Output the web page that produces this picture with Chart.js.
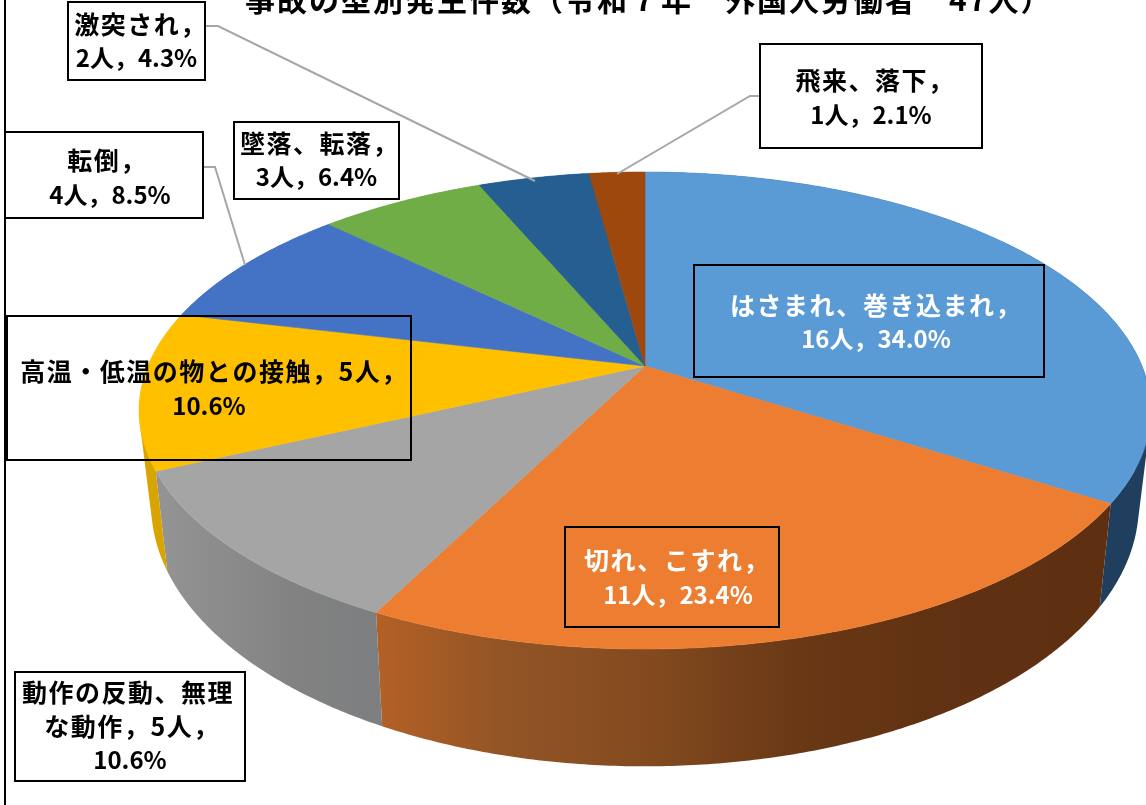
<!DOCTYPE html>
<html lang="ja"><head><meta charset="utf-8">
<style>html,body{margin:0;padding:0;background:#fff}canvas{display:block}</style>
<script src="https://cdn.jsdelivr.net/npm/chart.js@4"></script></head>
<body><canvas id="c" width="1146" height="805"></canvas>
<script>
const titleText = '事故の型別発生件数（令和７年　外国人労働者　47人）';
const categories = ['はさまれ、巻き込まれ','切れ、こすれ','動作の反動、無理な動作','高温・低温の物との接触','転倒','墜落、転落','激突され','飛来、落下'];
const counts = [16,11,5,5,4,3,2,1];
const percentLabels = ['34.0%','23.4%','10.6%','10.6%','8.5%','6.4%','4.3%','2.1%'];
const labelLines = [
  ['はさまれ、巻き込まれ，','16人，34.0%'],
  ['切れ、こすれ，','11人，23.4%'],
  ['動作の反動、無理','な動作，5人，','10.6%'],
  ['高温・低温の物との接触，5人，','10.6%'],
  ['転倒，','4人，8.5%'],
  ['墜落、転落，','3人，6.4%'],
  ['激突され，','2人，4.3%'],
  ['飛来、落下，','1人，2.1%']
];
const topColors = ['#5B9BD5','#ED7D31','#A5A5A5','#FFC000','#4472C4','#70AD47','#255E91','#9E480E'];

/* presentation */
const topFace = {cx:645, cy:366, a:497, b:230.2, k:-0.1866};
const botFace = {cx:645, cy:456, a:485, b:252, k:-0.188};
const boxes = [
  {x:694,y:265,w:350,h:112,color:'#fff',fill:null,cy:[305,339],dx:[7,7]},
  {x:565,y:527,w:214,h:100,color:'#fff',fill:null,cy:[560,595],dx:[5,6]},
  {x:15,y:672,w:230,h:109,color:'#000',fill:'#fff',cy:[692,726,760],dx:[-2,2,0]},
  {x:7,y:316,w:404,h:144,color:'#000',fill:null,cy:[371,406],dx:[5,0]},
  {x:5,y:132,w:198,h:86,color:'#000',fill:'#fff',cy:[160,195],dx:[3,6]},
  {x:234,y:122,w:165,h:77,color:'#000',fill:'#fff',cy:[143,177],dx:[3,0]},
  {x:68,y:2,w:137,h:78,color:'#000',fill:'#fff',cy:[24,58],dx:[4,0]},
  {x:760,y:44,w:222,h:104,color:'#000',fill:'#fff',cy:[80,115],dx:[4,0]}
];
const leaders = [
  [[205,26],[218,26],[535,181]],
  [[760,96],[750,96],[617,174]],
  [[203,167],[215,167],[245,265]]
];
const FONT = '"Noto Sans CJK JP","Noto Sans CJK SC",sans-serif';

function project(f, t){
  const X = Math.sin(t), Y = -Math.cos(t), d = 1 + f.k*Y;
  return [f.cx + f.a*X/d, f.cy + f.b*Y/d];
}
function sideFill(ctx, i){
  const grad = (x0,x1,stops)=>{const g=ctx.createLinearGradient(x0,0,x1,0);stops.forEach(s=>g.addColorStop(s[0],s[1]));return g;};
  if(i===0) return '#203f5e';
  if(i===1) return grad(380,1110,[[0,'#b36025'],[.165,'#935526'],[.37,'#834a1f'],[.575,'#693815'],[.78,'#603112'],[1,'#5e3011']]);
  if(i===2) return grad(165,384,[[0,'#939393'],[.6,'#828282'],[1,'#7c7e80']]);
  if(i===3) return '#d8a400';
  return topColors[i];
}
const pie3d = {
  id:'pie3d',
  beforeDatasetsDraw(chart){
    const ctx = chart.ctx, arcs = chart.getDatasetMeta(0).data;
    const ang = arcs.map(a=>[a.startAngle+Math.PI/2, a.endAngle+Math.PI/2]);
    const step = Math.PI/360;
    const samples = (s,e)=>{const r=[];const n=Math.max(1,Math.ceil((e-s)/step));for(let j=0;j<=n;j++)r.push(s+(e-s)*j/n);return r;};
    // side walls: quads share one orientation in one path, so the fold at the silhouette stays filled
    ang.forEach(([s,e],i)=>{
      const ts = samples(s,e);
      ctx.beginPath();
      for(let j=0;j<ts.length-1;j++){
        let q=[project(topFace,ts[j]),project(topFace,ts[j+1]),project(botFace,ts[j+1]),project(botFace,ts[j])];
        let area=0;
        q.forEach((p,m)=>{const n=q[(m+1)%4];area+=p[0]*n[1]-n[0]*p[1];});
        if(area<0) q=q.reverse();
        q.forEach((p,m)=>m?ctx.lineTo(p[0],p[1]):ctx.moveTo(p[0],p[1]));
        ctx.closePath();
      }
      ctx.fillStyle = sideFill(ctx,i);
      ctx.fill('nonzero');
    });
    // top face
    ang.forEach(([s,e],i)=>{
      ctx.beginPath();
      ctx.moveTo(topFace.cx,topFace.cy);
      samples(s,e).forEach(t=>{const p=project(topFace,t);ctx.lineTo(p[0],p[1]);});
      ctx.closePath();
      ctx.fillStyle = topColors[i];
      ctx.strokeStyle = topColors[i];
      ctx.lineWidth = 0.6;
      ctx.fill(); ctx.stroke();
    });
    return false;
  },
  afterDraw(chart){
    const ctx = chart.ctx;
    ctx.save();
    // chart frame line at left
    ctx.strokeStyle='#000'; ctx.lineWidth=2;
    ctx.beginPath(); ctx.moveTo(5,0); ctx.lineTo(5,805); ctx.stroke();
    // title
    ctx.fillStyle='#000'; ctx.textAlign='left'; ctx.textBaseline='alphabetic';
    ctx.font='bold 30px '+FONT;
    ctx.letterSpacing='2px';
    ctx.fillText(titleText,245,11);
    ctx.letterSpacing='0px';
    // leaders
    ctx.strokeStyle='#a6a6a6'; ctx.lineWidth=2;
    leaders.forEach(l=>{ctx.beginPath();l.forEach((p,j)=>j?ctx.lineTo(p[0],p[1]):ctx.moveTo(p[0],p[1]));ctx.stroke();});
    // labels
    boxes.forEach((b,i)=>{
      if(b.fill){ctx.fillStyle=b.fill;ctx.fillRect(b.x,b.y,b.w,b.h);}
      ctx.strokeStyle='#000'; ctx.lineWidth=2;
      ctx.strokeRect(b.x,b.y,b.w,b.h);
      ctx.fillStyle=b.color; ctx.textAlign='center'; ctx.textBaseline='middle';
      labelLines[i].forEach((line,j)=>{
        const numeric = /^[0-9]/.test(line);
        ctx.font = 'bold '+(numeric?24:25)+'px '+FONT;
        ctx.letterSpacing = numeric?'0px':'1.5px';
        ctx.fillText(line,b.x+b.w/2+b.dx[j],b.cy[j]);
      });
    });
    ctx.restore();
  }
};
new Chart(document.getElementById('c'),{
  type:'pie',
  data:{labels:categories,datasets:[{data:counts,backgroundColor:topColors,borderWidth:0}]},
  options:{responsive:false,animation:false,events:[],
    plugins:{legend:{display:false},tooltip:{enabled:false},title:{display:false}}},
  plugins:[pie3d]
});
</script></body></html>
